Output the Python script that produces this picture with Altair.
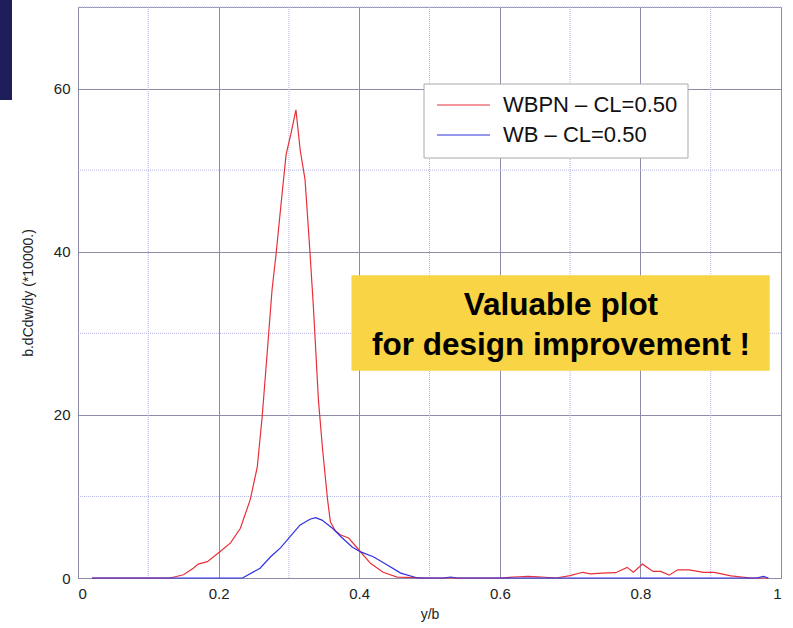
import altair as alt
import pandas as pd

# WBPN - CL=0.50 (red)
wbpn_x = [0.02, 0.10, 0.131, 0.15, 0.164, 0.171, 0.184, 0.20, 0.217, 0.231, 0.245, 0.255,
          0.262, 0.269, 0.276, 0.282, 0.289, 0.296, 0.303, 0.310, 0.316, 0.323, 0.330,
          0.335, 0.342, 0.348, 0.355, 0.359, 0.366, 0.373, 0.385, 0.40, 0.416, 0.434,
          0.454, 0.50, 0.60, 0.627, 0.64, 0.654, 0.68, 0.70, 0.718, 0.729, 0.745, 0.765,
          0.781, 0.79, 0.803, 0.818, 0.829, 0.841, 0.853, 0.869, 0.89, 0.905, 0.929,
          0.957, 0.982]
wbpn_y = [0.0, 0.0, 0.0, 0.4, 1.2, 1.7, 2.0, 3.1, 4.3, 6.1, 9.6, 13.6,
          19.8, 27.5, 35.3, 39.9, 46.0, 51.9, 54.5, 57.4, 52.5, 48.8, 39.9,
          33.0, 21.8, 15.7, 9.6, 6.9, 5.8, 5.3, 4.9, 3.4, 1.8, 0.7,
          0.1, 0.0, 0.0, 0.15, 0.2, 0.15, 0.0, 0.3, 0.7, 0.5, 0.6, 0.65,
          1.3, 0.7, 1.7, 0.8, 0.8, 0.35, 1.0, 1.0, 0.7, 0.7, 0.25,
          0.0, 0.0]

# WB - CL=0.50 (blue)
wb_x = [0.02, 0.15, 0.234, 0.259, 0.274, 0.288, 0.302, 0.316, 0.33, 0.338, 0.347, 0.362,
        0.376, 0.39, 0.402, 0.42, 0.44, 0.459, 0.483, 0.52, 0.53, 0.54, 0.60, 0.80,
        0.965, 0.975, 0.982]
wb_y = [0.0, 0.0, 0.0, 1.2, 2.6, 3.7, 5.1, 6.5, 7.2, 7.4, 7.1, 6.1,
        4.9, 3.8, 3.2, 2.6, 1.6, 0.6, 0.0, 0.0, 0.12, 0.0, 0.0, 0.0,
        0.0, 0.2, 0.0]

series_names = ["WBPN \u2013 CL=0.50", "WB \u2013 CL=0.50"]
series_colors = ["#e8303a", "#3030e0"]

x_ticks = [0, 0.2, 0.4, 0.6, 0.8, 1.0]
x_minor = [0.1, 0.3, 0.5, 0.7, 0.9]
y_ticks = [0, 20, 40, 60]
y_minor = [10, 30, 50, 70]

note_lines = ["Valuable plot", "for design improvement !"]
note_x = 0.687
note_y = [33.4, 28.4]
note_box_x = [0.389]
note_box_x2 = [0.984]
note_box_y = [25.4]
note_box_y2 = [37.1]

rows = []
for name, xs_, ys_ in [(series_names[0], wbpn_x, wbpn_y), (series_names[1], wb_x, wb_y)]:
    for i, (a, b) in enumerate(zip(xs_, ys_)):
        rows.append({"x": a, "y": b, "series": name, "order": i})
df = pd.DataFrame(rows)

xs = alt.Scale(domain=[0, 1], nice=False, zero=False)
ys = alt.Scale(domain=[0, 70], nice=False, zero=False)

font = "Liberation Sans"
one = pd.DataFrame({"a": [0]})

minor_x = alt.Chart(pd.DataFrame({"v": x_minor})).mark_rule(
    color="#b4b4e6", strokeWidth=1, strokeDash=[1, 1]
).encode(x=alt.X("v:Q", scale=xs))

minor_y = alt.Chart(pd.DataFrame({"v": y_minor})).mark_rule(
    color="#b4b4e6", strokeWidth=1, strokeDash=[1, 1]
).encode(y=alt.Y("v:Q", scale=ys))

box = alt.Chart(pd.DataFrame({"x": note_box_x, "x2": note_box_x2, "y": note_box_y, "y2": note_box_y2})).mark_rect(
    color="#f9d444"
).encode(x=alt.X("x:Q", scale=xs), x2="x2:Q", y=alt.Y("y:Q", scale=ys), y2="y2:Q")

note = alt.Chart(pd.DataFrame({"x": [note_x, note_x], "y": note_y, "t": note_lines})).mark_text(
    font=font, fontSize=31.5, fontWeight="bold", color="black", baseline="middle", align="center"
).encode(x=alt.X("x:Q", scale=xs), y=alt.Y("y:Q", scale=ys), text="t:N")

lines = alt.Chart(df).mark_line(strokeWidth=1.2).encode(
    x=alt.X("x:Q", scale=xs, title="y/b",
            axis=alt.Axis(values=x_ticks, labelExpr="datum.value == 0 ? '0' : datum.value == 1 ? '1' : format(datum.value, '.1f')")),
    y=alt.Y("y:Q", scale=ys, title="b.dCdw/dy (*10000.)", axis=alt.Axis(values=y_ticks)),
    color=alt.Color("series:N", scale=alt.Scale(domain=series_names, range=series_colors), legend=None),
    order="order:Q",
)

# legend drawn by hand (box, line keys, labels)
leg_box = alt.Chart(one).mark_rect(fill="white", stroke="#aaaaaa", strokeWidth=1).encode(
    x=alt.value(346), x2=alt.value(610), y=alt.value(77), y2=alt.value(151)
)
leg_items = []
for i, (name, col) in enumerate(zip(series_names, series_colors)):
    yy = 98 + 30 * i
    leg_items.append(alt.Chart(one).mark_rule(color=col, strokeWidth=1.2).encode(
        x=alt.value(359), x2=alt.value(412), y=alt.value(yy)))
    leg_items.append(alt.Chart(one).mark_text(
        font=font, fontSize=22, color="#111", align="left", baseline="middle").encode(
        x=alt.value(425), y=alt.value(yy), text=alt.value(name)))

navy = alt.Chart(one).mark_rect(color="#1e1e5a").encode(
    x=alt.value(-78), x2=alt.value(-66), y=alt.value(-7), y2=alt.value(93)
)

chart = alt.layer(minor_x, minor_y, box, note, lines, leg_box, *leg_items, navy).properties(
    width=703, height=571,
    padding={"left": 78, "top": 7, "right": 12, "bottom": 50},
    autosize=alt.AutoSizeParams(type="none"),
    background="white",
).configure_axis(
    grid=True, gridColor="#8c8ca8", gridWidth=1, domain=False, ticks=False,
    labelFont=font, labelFontSize=15, labelColor="#222", labelPadding=8,
    titleFont=font, titleFontSize=14, titleFontWeight="normal", titleColor="#222",
).configure_axisX(titlePadding=6).configure_axisY(titlePadding=18).configure_view(
    stroke="#9a9a9a", strokeWidth=1
)

chart.save("out.html", embed_options={"renderer": "svg", "actions": False})
